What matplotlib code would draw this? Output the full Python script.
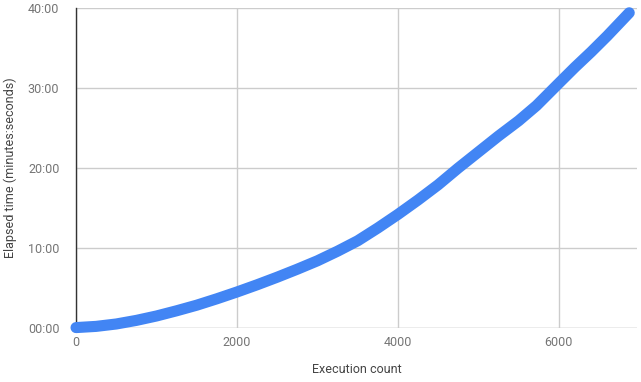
import matplotlib.pyplot as plt
from matplotlib.ticker import FuncFormatter

plt.rcParams['font.family'] = ['Roboto', 'DejaVu Sans']

# execution count vs elapsed minutes
counts = [0, 250, 500, 750, 1000, 1250, 1500, 1750, 2000, 2250, 2500, 2750,
          3000, 3250, 3500, 3750, 4000, 4250, 4500, 4750, 5000, 5250, 5500,
          5722, 6000, 6200, 6400, 6600, 6874]
minutes = [0.05, 0.2, 0.5, 0.95, 1.5, 2.15, 2.85, 3.65, 4.5, 5.4, 6.35, 7.35,
           8.4, 9.6, 10.9, 12.5, 14.2, 16.0, 17.9, 20.0, 22.0, 24.0, 25.9,
           27.8, 30.6, 32.6, 34.5, 36.5, 39.4]

xticks = [0, 2000, 4000, 6000]
yticks = [0, 10, 20, 30, 40]

fig = plt.figure(figsize=(6.41, 3.82), dpi=100)
ax = fig.add_axes([0.1186, 0.1414, 0.8751, 0.8377])

ax.plot(counts, minutes, color='#4285f4', lw=8, solid_capstyle='round',
        solid_joinstyle='round', zorder=3, clip_on=False)

ax.set_xlim(0, 6970)
ax.set_ylim(0, 40)
ax.set_xticks(xticks)
ax.set_yticks(yticks)
ax.yaxis.set_major_formatter(FuncFormatter(lambda v, p: '%02d:00' % int(v)))
ax.grid(True, color='#cccccc', lw=1)
ax.set_axisbelow(True)
for s in ['top', 'right', 'bottom']:
    ax.spines[s].set_visible(False)
ax.spines['left'].set_color('#333333')
ax.spines['left'].set_linewidth(1)
ax.axhline(0, color='#cccccc', lw=1, zorder=1)
ax.tick_params(length=0, labelsize=9, labelcolor='#757575', pad=6)
ax.tick_params(axis='y', pad=12)

ax.set_xlabel('Execution count', fontsize=9, color='#444444', va='center')
ax.xaxis.set_label_coords(0.5, -0.131)
ax.set_ylabel('Elapsed time (minutes:seconds)', fontsize=9, color='#444444',
              va='center', ha='center')
ax.yaxis.set_label_coords(-0.1176, 0.5)

fig.savefig('out.png', dpi=100)
